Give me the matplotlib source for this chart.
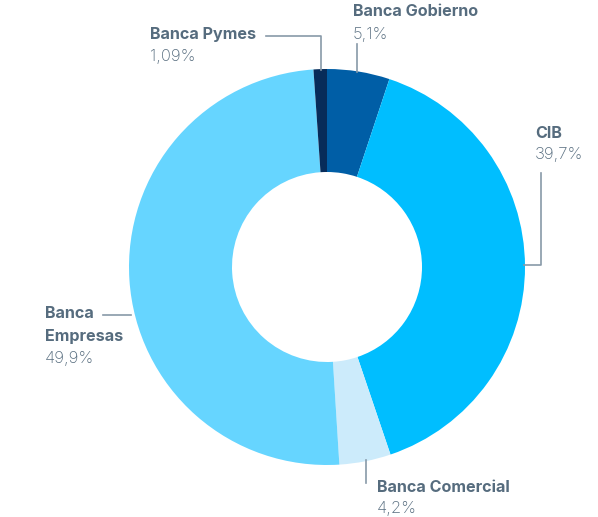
import matplotlib.pyplot as plt

plt.rcParams['font.family'] = ['Inter', 'DejaVu Sans']

# data
segments = ["Banca Gobierno", "CIB", "Banca Comercial", "Banca Empresas", "Banca Pymes"]
shares = [5.1, 39.7, 4.2, 49.9, 1.09]
share_labels = ["5,1%", "39,7%", "4,2%", "49,9%", "1,09%"]
colors = ["#005EA6", "#00BEFF", "#CCEBFB", "#66D5FF", "#072C5A"]

W, H = 598, 517
fig = plt.figure(figsize=(W / 100, H / 100), dpi=100)
ax = fig.add_axes([0, 0, 1, 1])

cx, cy, r = 327, H - 267, 198
ax.pie(shares, colors=colors, startangle=90, counterclock=False,
       center=(cx, cy), radius=r, frame=True,
       wedgeprops=dict(width=r - 95, linewidth=0))
ax.set_xlim(0, W)
ax.set_ylim(0, H)
ax.set_aspect('equal')
ax.axis('off')

txt = "#566C7E"
line = "#8899A8"


def y(p):
    return H - p


# label placement (pixel coords from top)
label_pos = {
    "Banca Gobierno": (353, 12, ["Banca Gobierno"]),
    "CIB": (535, 133, ["CIB"]),
    "Banca Comercial": (377, 487, ["Banca Comercial"]),
    "Banca Empresas": (45, 314, ["Banca", "Empresas"]),
    "Banca Pymes": (150, 35, ["Banca Pymes"]),
}
for name, pct in zip(segments, share_labels):
    x0, y0, lines = label_pos[name]
    for i, l in enumerate(lines):
        ax.text(x0, y(y0 + i * 22), l, fontsize=11.6, fontweight='bold',
                color=txt, va='center', ha='left')
    ax.text(x0, y(y0 + len(lines) * 22), pct, fontsize=12, fontweight='light',
            color=txt, va='center', ha='left')

# leader lines
kw = dict(color=line, lw=1.2)
ax.plot([266, 321, 321], [y(36), y(36), y(70)], **kw)
ax.plot([357, 357], [y(44), y(72)], **kw)
ax.plot([541, 541, 524], [y(173), y(265), y(265)], **kw)
ax.plot([103, 131], [y(315), y(315)], **kw)
ax.plot([366, 366], [y(460), y(483)], **kw)

fig.savefig("out.png", dpi=100)
